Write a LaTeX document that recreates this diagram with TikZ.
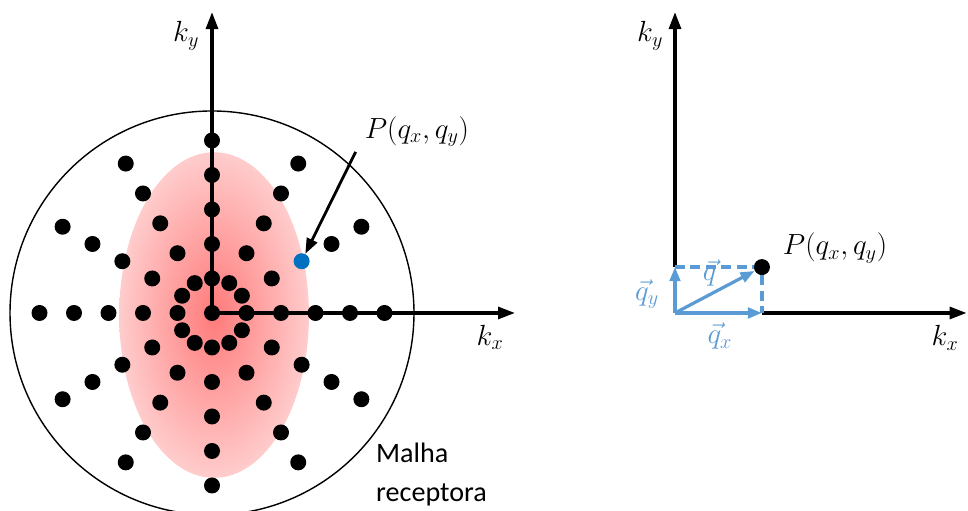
\documentclass[tikz,border=0pt]{standalone}
\usepackage{fontspec}
\newfontfamily\meshfont{Carlito}
\usepackage{amsmath, amssymb}
\usetikzlibrary{arrows.meta}
\definecolor{vecblue}{RGB}{91, 155, 213}
\definecolor{pointblue}{RGB}{0, 112, 192}

\begin{document}
\begin{tikzpicture}[x=0.8625cm, y=0.8625cm,
    every node/.style={font=\fontsize{20}{27.5}\selectfont},
    gridpt/.style={circle, fill=black, inner sep=0pt, minimum size=0.4cm},
    axis/.style={line width=2.2pt, -{Triangle[length=12pt, width=8.5pt]}},
    pointer/.style={line width=2pt, -{Triangle[length=11pt, width=8pt]}},
    vec/.style={vecblue, line width=2.3pt, -{Triangle[length=10pt, width=7.5pt]}},
    vecdash/.style={vecblue, line width=2.3pt, dash pattern=on 7pt off 4pt}]
    \useasboundingbox (-6.145, -5.739) rectangle (21.913, 9.072);

    % Receiver mesh and weighting
    \draw[line width=1pt] (0, 0) circle (5.855);
    \shade[inner color=red!52, outer color=red!20] (0.06, -0.06) ellipse (2.75 and 4.72);

    % Left axes
    \coordinate (O1) at (0, 0);
    \draw[axis] (O1) -- (0, 8.72) coordinate (ky1);
    \draw[axis] (O1) -- (8.78, 0) coordinate (kx1);
    \node (ky1lab) at (-0.75, 8.03) {$k_y$};
    \node (kx1lab) at (8.06, -0.70) {$k_x$};

    % Mesh points
    \node[gridpt] (g0) at (O1) {};
    \foreach \r in {1,...,5} {
        \foreach \a in {0,30,...,330} {
            \ifnum\numexpr 100*\r+\a\relax=330
            \else
                \node[gridpt] (g\r-\a) at (\a:\r) {};
            \fi
        }
    }
    \node[gridpt, fill=pointblue] (P1) at (30:3) {};
    \node (P1lab) at (5.94, 5.25) {$P(q_x,q_y)$};
    \draw[pointer] ([xshift=-3pt]P1lab.south west) -- (P1);
    \node[anchor=north west, inner sep=0pt, align=left, font=\meshfont\fontsize{20}{27.5}\selectfont] (mesh) at (4.75, -3.77) {Malha\\receptora};

    % Right axes
    \coordinate (O2) at (13.42, 0);
    \node[gridpt] (P2) at (15.94, 1.33) {};
    \coordinate (qx) at (P2 |- O2);
    \coordinate (qy) at (O2 |- P2);
    \draw[axis] (qy) -- (13.42, 8.72) coordinate (ky2);
    \draw[axis] (qx) -- (21.87, 0) coordinate (kx2);
    \node (ky2lab) at (12.70, 8.03) {$k_y$};
    \node (kx2lab) at (21.25, -0.72) {$k_x$};

    % Vector components
    \draw[vecdash] (qy) -- (P2);
    \draw[vecdash] (P2) -- (qx);
    \draw[vec] (O2) -- (qx);
    \draw[vec] (O2) -- (qy);
    \draw[vec] (O2) -- (P2);
    \node (P2lab) at (18.06, 1.88) {$P(q_x,q_y)$};
    \node[text=vecblue] (qlab) at (14.43, 1.16) {$\vec{q}$};
    \node[text=vecblue] (qylab) at (12.61, 0.55) {$\vec{q}_y$};
    \node[text=vecblue] (qxlab) at (14.72, -0.67) {$\vec{q}_x$};
\end{tikzpicture}
\end{document}
